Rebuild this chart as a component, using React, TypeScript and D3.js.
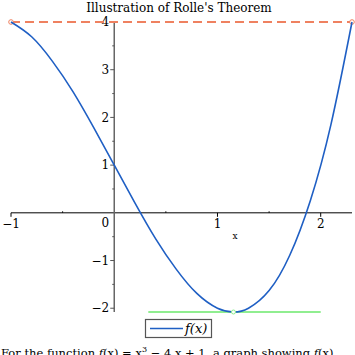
import React from "react";
import * as d3 from "d3";

const curveX = [-1, -0.8, -0.6, -0.4, -0.2, 0, 0.2, 0.4, 0.6, 0.8, 1.0, 1.155, 1.3, 1.5, 1.7, 1.9, 2.1, 2.303];
const curveY = [4, 3.69, 3.18, 2.54, 1.79, 1, 0.21, -0.54, -1.18, -1.69, -2, -2.08, -2.0, -1.63, -0.89, 0.26, 1.86, 4];

const secantX = [-1, 2.303];
const secantY = [4, 4];
const tangentX = [0.33, 2.0];
const tangentY = [-2.079, -2.079];
const criticalPoint = [1.155, -2.079];

const xTicks = [-1, 1, 2];
const xMinor = [-0.5, 0.5, 1.5];
const yTicks = [-2, -1, 1, 2, 3, 4];
const yMinor = [-1.5, -0.5, 0.5, 1.5, 2.5, 3.5];

const title = "Illustration of Rolle's Theorem";

const font = "'DejaVu Serif', serif";

const App = () => {
  const width = 355;
  const height = 355;

  const x = d3.scaleLinear().domain([-1, 2.303]).range([11, 352]);
  const y = d3.scaleLinear().domain([-2.079, 4]).range([312, 22]);

  const line = d3
    .line<number>()
    .x((d, i) => x(curveX[i]))
    .y((d) => y(d))
    .curve(d3.curveNatural);

  const x0 = x(0);
  const y0 = y(0);

  return (
    <svg
      width={width}
      height={height}
      style={{ position: "absolute", left: 0, top: 0, background: "#fff" }}
      fontFamily={font}
    >
      <text x={179} y={12} textAnchor="middle" fontSize={12}>
        {title}
      </text>

      {/* x axis */}
      <line x1={x(-1)} x2={x(2.303)} y1={y0} y2={y0} stroke="#000" strokeWidth={1} />
      {xTicks.map((t) => (
        <g key={t}>
          <line x1={x(t)} x2={x(t)} y1={y0} y2={y0 + 4} stroke="#000" />
          <text x={x(t)} y={y0 + 15} textAnchor="middle" fontSize={12}>
            {t < 0 ? `−${-t}` : t}
          </text>
        </g>
      ))}
      {xMinor.map((t) => (
        <line key={t} x1={x(t)} x2={x(t)} y1={y0 - 1.5} y2={y0} stroke="#000" />
      ))}
      <text x={235} y={y0 + 26} textAnchor="middle" fontSize={9}>
        x
      </text>

      {/* y axis */}
      <line x1={x0} x2={x0} y1={y(4)} y2={y(-2.079)} stroke="#666" strokeWidth={1.5} />
      {yTicks.map((t) => (
        <g key={t}>
          <line x1={x0 - 4} x2={x0} y1={y(t)} y2={y(t)} stroke="#555" />
          <text x={x0 - 5} y={y(t)} dy="0.35em" textAnchor="end" fontSize={12}>
            {t < 0 ? `−${-t}` : t}
          </text>
        </g>
      ))}
      {yMinor.map((t) => (
        <line key={t} x1={x0 - 2} x2={x0} y1={y(t)} y2={y(t)} stroke="#555" />
      ))}
      <text x={x0 - 5} y={y0 + 14} textAnchor="end" fontSize={12}>
        0
      </text>

      {/* secant through f(a) = f(b) */}
      <line
        x1={x(secantX[0])}
        x2={x(secantX[1])}
        y1={y(secantY[0])}
        y2={y(secantY[1])}
        stroke="#EF8160"
        strokeWidth={2}
        strokeDasharray="9,5"
      />
      {secantX.map((v, i) => (
        <circle key={i} cx={x(v)} cy={y(secantY[i])} r={2.3} fill="#fff" stroke="#EF8160" strokeWidth={1} />
      ))}

      {/* horizontal tangent */}
      <line
        x1={x(tangentX[0])}
        x2={x(tangentX[1])}
        y1={y(tangentY[0])}
        y2={y(tangentY[1])}
        stroke="#90EE90"
        strokeWidth={2}
      />

      <path d={line(curveY) || ""} fill="none" stroke="#1F5FC4" strokeWidth={1.6} />

      <circle
        cx={x(criticalPoint[0])}
        cy={y(criticalPoint[1])}
        r={2}
        fill="#fff"
        stroke="#90EE90"
        strokeWidth={1}
      />

      {/* legend */}
      <rect x={145.5} y={319.5} width={66} height={18} fill="#fff" stroke="#555" strokeWidth={1.2} />
      <line x1={150} x2={183} y1={328.5} y2={328.5} stroke="#1F5FC4" strokeWidth={1.6} />
      <text x={185} y={333} fontSize={13} fontStyle="italic">
        f(x)
      </text>

      <text x={1} y={357} fontSize={11.5}>
        For the function <tspan fontStyle="italic">f</tspan>(x) = x
        <tspan fontSize={8} dy={-5}>3</tspan>
        <tspan dy={5}> − 4 x + 1,  a graph showing </tspan>
        <tspan fontStyle="italic">f</tspan>(x)
      </text>
    </svg>
  );
};

export default App;
